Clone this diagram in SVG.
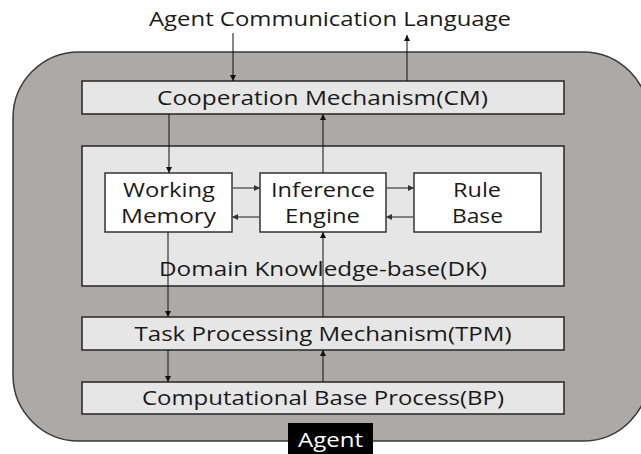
<svg xmlns="http://www.w3.org/2000/svg" width="641" height="454" viewBox="0 0 641 454">
  <style>
    .txt { font-family: "Open Sans", "Liberation Sans", sans-serif; font-size: 20px; fill: #1a1a1a; text-anchor: middle; }
    .layer { fill: #e6e6e6; stroke: #262626; stroke-width: 1.5; }
    .unit { fill: #ffffff; stroke: #333333; stroke-width: 1.5; }
    .link { stroke: #111111; stroke-width: 1; fill: none; marker-end: url(#head); }
    .side { stroke: #555555; stroke-width: 1.4; fill: none; marker-end: url(#head2); }
  </style>
  <defs>
    <marker id="head" viewBox="0 0 6 6" refX="6" refY="3" markerWidth="6" markerHeight="6" markerUnits="userSpaceOnUse" orient="auto">
      <path d="M0,0 L6,3 L0,6 Z" fill="#111111"/>
    </marker>
    <marker id="head2" viewBox="0 0 6 6" refX="6" refY="3" markerWidth="6" markerHeight="6" markerUnits="userSpaceOnUse" orient="auto">
      <path d="M0,0 L6,3 L0,6 Z" fill="#333333"/>
    </marker>
  </defs>

  <rect width="641" height="454" fill="#ffffff"/>

  <!-- agent body -->
  <g id="agent">
    <rect x="13" y="52" width="636" height="389" rx="66" ry="66" fill="#ada9a7" stroke="#3a3a3a" stroke-width="1.5"/>
    <rect x="288" y="423" width="85" height="35" fill="#000000"/>
    <text class="txt" x="330.5" y="447" textLength="65" lengthAdjust="spacingAndGlyphs" style="fill:#ffffff">Agent</text>
  </g>

  <text id="acl" class="txt" x="330" y="26" textLength="362" lengthAdjust="spacingAndGlyphs">Agent Communication Language</text>

  <g id="cm">
    <rect class="layer" x="82" y="81" width="482" height="33"/>
    <text class="txt" x="322.5" y="105" textLength="331" lengthAdjust="spacingAndGlyphs">Cooperation Mechanism(CM)</text>
  </g>

  <g id="dk">
    <rect class="layer" x="82" y="146" width="482" height="140"/>
    <text class="txt" x="323" y="276" textLength="328" lengthAdjust="spacingAndGlyphs">Domain Knowledge-base(DK)</text>
  </g>

  <g id="wm">
    <rect class="unit" x="105" y="173" width="127" height="59"/>
    <text class="txt" x="169" y="197" textLength="92" lengthAdjust="spacingAndGlyphs">Working</text>
    <text class="txt" x="168.5" y="223" textLength="95" lengthAdjust="spacingAndGlyphs">Memory</text>
  </g>

  <g id="ie">
    <rect class="unit" x="260" y="173" width="126" height="59"/>
    <text class="txt" x="323" y="197" textLength="104" lengthAdjust="spacingAndGlyphs">Inference</text>
    <text class="txt" x="322.5" y="223" textLength="75" lengthAdjust="spacingAndGlyphs">Engine</text>
  </g>

  <g id="rb">
    <rect class="unit" x="414" y="173" width="127" height="59"/>
    <text class="txt" x="477" y="197" textLength="48" lengthAdjust="spacingAndGlyphs">Rule</text>
    <text class="txt" x="477.5" y="223" textLength="51" lengthAdjust="spacingAndGlyphs">Base</text>
  </g>

  <g id="tpm">
    <rect class="layer" x="82" y="317" width="482" height="33"/>
    <text class="txt" x="323" y="341" textLength="377" lengthAdjust="spacingAndGlyphs">Task Processing Mechanism(TPM)</text>
  </g>

  <g id="bp">
    <rect class="layer" x="82" y="382" width="482" height="32"/>
    <text class="txt" x="323" y="405" textLength="362" lengthAdjust="spacingAndGlyphs">Computational Base Process(BP)</text>
  </g>

  <g id="connectors">
    <line class="link" x1="233" y1="33" x2="233" y2="81"/>
    <line class="link" x1="407" y1="81" x2="407" y2="35"/>
    <line class="link" x1="169" y1="114" x2="169" y2="173"/>
    <line class="link" x1="323" y1="173" x2="323" y2="114"/>
    <line class="link" x1="168" y1="232" x2="168" y2="317"/>
    <line class="link" x1="323" y1="317" x2="323" y2="232"/>
    <line class="link" x1="168" y1="350" x2="168" y2="382"/>
    <line class="link" x1="323" y1="382" x2="323" y2="350"/>
    <line class="side" x1="232" y1="188" x2="260" y2="188"/>
    <line class="side" x1="260" y1="217" x2="232" y2="217"/>
    <line class="side" x1="386" y1="188" x2="414" y2="188"/>
    <line class="side" x1="414" y1="217" x2="386" y2="217"/>
  </g>
</svg>
